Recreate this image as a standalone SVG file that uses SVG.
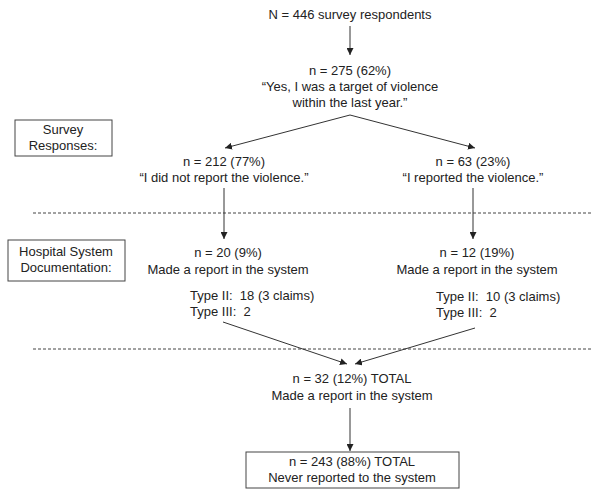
<svg xmlns="http://www.w3.org/2000/svg" width="600" height="501" viewBox="0 0 600 501">
<defs>
<marker id="ah" viewBox="0 0 10 10" refX="10" refY="5" markerWidth="7" markerHeight="7" markerUnits="userSpaceOnUse" orient="auto">
<path d="M0,0 L10,5 L0,10 z" fill="#222"/>
</marker>
<style>
text{font-family:"Liberation Sans",Arial,sans-serif;font-size:13px;fill:#222;text-anchor:middle;white-space:pre}
.l{text-anchor:start}
.box{fill:#fff;stroke:#444;stroke-width:1}
.c{stroke:#333;stroke-width:1;fill:none}
.a{marker-end:url(#ah)}
.d{stroke:#444;stroke-width:1;stroke-dasharray:3,2;fill:none}
</style>
</defs>
<rect width="600" height="501" fill="#fff"/>
<g id="dividers">
<line class="d" x1="33" y1="213" x2="592" y2="213"/>
<line class="d" x1="33" y1="349" x2="592" y2="349"/>
</g>
<g id="connectors">
<line class="c a" x1="350" y1="26" x2="350" y2="55"/>
<line class="c a" x1="350" y1="115" x2="225" y2="148"/>
<line class="c a" x1="350" y1="115" x2="475" y2="148"/>
<line class="c a" x1="224" y1="188" x2="224" y2="239"/>
<line class="c a" x1="473" y1="188" x2="473" y2="239"/>
<line class="c a" x1="223" y1="322" x2="347" y2="364"/>
<line class="c a" x1="475" y1="328" x2="355" y2="364"/>
<line class="c a" x1="350" y1="408" x2="350" y2="451"/>
</g>
<g id="n446"><text x="350" y="19">N = 446 survey respondents</text></g>
<g id="n275">
<text x="350" y="75">n = 275 (62%)</text>
<text x="350" y="91">“Yes, I was a target of violence</text>
<text x="350" y="107">within the last year.”</text>
</g>
<g id="label-survey">
<rect class="box" x="15" y="120" width="97" height="36"/>
<text x="63" y="134">Survey</text>
<text x="63" y="150">Responses:</text>
</g>
<g id="n212">
<text x="224" y="166">n = 212 (77%)</text>
<text x="224" y="182">“I did not report the violence.”</text>
</g>
<g id="n63">
<text x="473" y="166">n = 63 (23%)</text>
<text x="473" y="182">“I reported the violence.”</text>
</g>
<g id="label-hospital">
<rect class="box" x="8" y="240" width="117" height="41"/>
<text x="66" y="256">Hospital System</text>
<text x="66" y="272">Documentation:</text>
</g>
<g id="n20">
<text x="228" y="257">n = 20 (9%)</text>
<text x="228" y="274">Made a report in the system</text>
<text class="l" x="190" y="300">Type II:  18 (3 claims)</text>
<text class="l" x="190" y="316">Type III:  2</text>
</g>
<g id="n12">
<text x="477" y="257">n = 12 (19%)</text>
<text x="477" y="274">Made a report in the system</text>
<text class="l" x="436" y="301">Type II:  10 (3 claims)</text>
<text class="l" x="436" y="317">Type III:  2</text>
</g>
<g id="n32">
<text x="352" y="383">n = 32 (12%) TOTAL</text>
<text x="352" y="400">Made a report in the system</text>
</g>
<g id="n243">
<rect class="box" x="246" y="452" width="213" height="36"/>
<text x="352" y="466">n = 243 (88%) TOTAL</text>
<text x="352" y="482">Never reported to the system</text>
</g>
</svg>
